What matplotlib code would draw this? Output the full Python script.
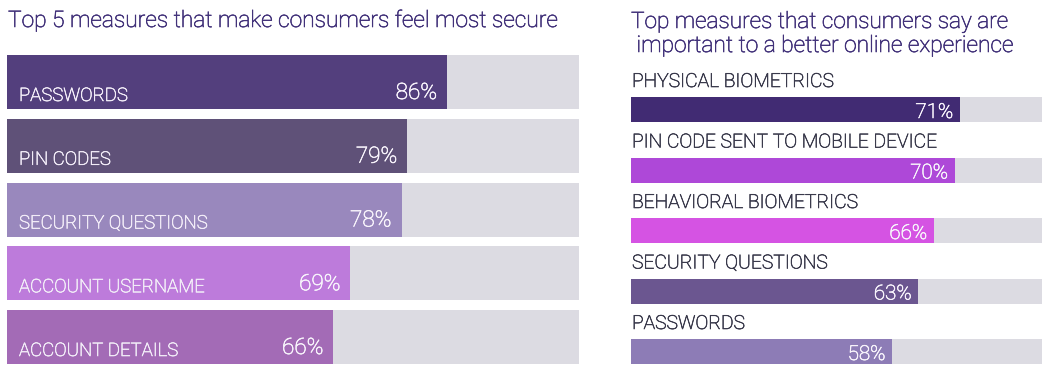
import matplotlib
matplotlib.use("Agg")
import matplotlib.pyplot as plt
import matplotlib.patheffects as pe

plt.rcParams['font.family'] = ['Roboto', 'DejaVu Sans']

# ---- data ----
left_title = "Top 5 measures that make consumers feel most secure"
left_labels = ["PASSWORDS", "PIN CODES", "SECURITY QUESTIONS", "ACCOUNT USERNAME", "ACCOUNT DETAILS"]
left_values = [86, 79, 78, 69, 66]
left_colors = ["#533f7d", "#5f5178", "#9988bd", "#bd7bdb", "#a36bb6"]

right_title = ["Top measures that consumers say are", " important to a better online experience"]
right_labels = ["PHYSICAL BIOMETRICS", "PIN CODE SENT TO MOBILE DEVICE", "BEHAVIORAL BIOMETRICS",
                "SECURITY QUESTIONS", "PASSWORDS"]
right_values = [71, 70, 66, 63, 58]
right_colors = ["#412b73", "#ae48d8", "#d553e3", "#6b5690", "#8d7cb6"]

TRACK_COLOR = "#dcdbe2"
TITLE_COLOR = "#42327a"
LABEL_COLOR = "#3a3a4c"
VALUE_COLOR = "#f7f3fb"

W, H = 1051, 372
fig = plt.figure(figsize=(W / 100, H / 100), dpi=100)
fig.patch.set_facecolor("white")


def fx(x):
    return x / W


def fy(y):
    return 1 - y / H


def thick(color, lw=0.45):
    return [pe.withStroke(linewidth=lw, foreground=color)]


# ---- left panel ----
axL = fig.add_axes([fx(7), 0, fx(579) - fx(7), 1])
left_min, left_max = 8.63, 109.2
px_left = (579 - 7) / (left_max - left_min)
axL.set_xlim(left_min, left_max)
axL.set_ylim(H, 0)
axL.axis("off")
for i, (lab, v, c) in enumerate(zip(left_labels, left_values, left_colors)):
    top = 55 + 63.75 * i
    h = 54
    axL.barh(top + h / 2, left_max, height=h, color=TRACK_COLOR, left=0)
    axL.barh(top + h / 2, v, height=h, color=c, left=0)
    axL.text(left_min + 12 / px_left, top + h - 8, lab, color="#f1ebf7", fontsize=13.4,
             fontweight="light", ha="left", va="baseline", path_effects=thick("#f1ebf7"))
    axL.text(v - 10 / px_left, top + h - 10, f"{v}%", color=VALUE_COLOR, fontsize=16.2,
             fontweight="light", ha="right", va="baseline", path_effects=thick(VALUE_COLOR))

fig.text(fx(8), fy(27), left_title, color=TITLE_COLOR, fontsize=16.4,
         fontweight="light", ha="left", va="baseline", path_effects=thick(TITLE_COLOR))

# ---- right panel ----
axR = fig.add_axes([fx(631), 0, fx(1042) - fx(631), 1])
right_min, right_max = 7.85, 86.7
px_right = (1042 - 631) / (right_max - right_min)
axR.set_xlim(right_min, right_max)
axR.set_ylim(H, 0)
axR.axis("off")
for i, (lab, v, c) in enumerate(zip(right_labels, right_values, right_colors)):
    top = 97 + 60.5 * i
    h = 25
    axR.barh(top + h / 2, right_max, height=h, color=TRACK_COLOR, left=0)
    axR.barh(top + h / 2, v, height=h, color=c, left=0)
    axR.text(v - 7 / px_right, top + h - 4, f"{v}%", color=VALUE_COLOR, fontsize=14.8,
             fontweight="light", ha="right", va="baseline", path_effects=thick(VALUE_COLOR))
    axR.text(right_min + 1 / px_right, top - 10, lab, color=LABEL_COLOR, fontsize=13.9,
             fontweight="light", ha="left", va="baseline", path_effects=thick(LABEL_COLOR))

fig.text(fx(631), fy(28), right_title[0], color=TITLE_COLOR, fontsize=16.3,
         fontweight="light", ha="left", va="baseline", path_effects=thick(TITLE_COLOR))
fig.text(fx(631), fy(52), right_title[1], color=TITLE_COLOR, fontsize=16.4,
         fontweight="light", ha="left", va="baseline", path_effects=thick(TITLE_COLOR))

fig.savefig("out.png", dpi=100, facecolor="white")
